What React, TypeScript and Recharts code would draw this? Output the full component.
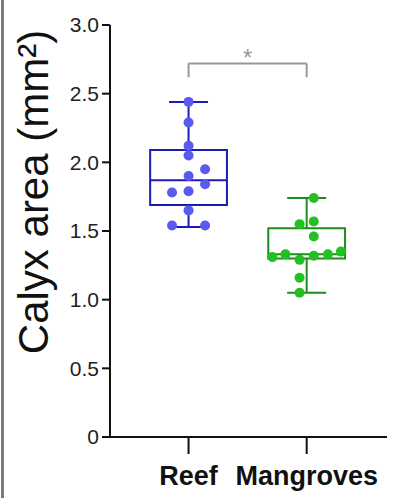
import { ComposedChart, Scatter, XAxis, YAxis, ReferenceArea, ReferenceLine } from 'recharts'

// category positions on the numeric x axis
const groups = ['Reef', 'Mangroves']
const groupPos = [1, 2]
const yTicks = [0, 0.5, 1.0, 1.5, 2.0, 2.5, 3.0]

// individual measurements (mm²) with beeswarm offsets (in category units)
const reefValues = [2.44, 2.29, 2.12, 2.05, 1.95, 1.90, 1.84, 1.78, 1.79, 1.65, 1.54, 1.54]
const reefJitter = [0, 0, 0, 0, 0.14, 0, 0.14, -0.14, 0, 0, -0.14, 0.14]
const mangroveValues = [1.74, 1.55, 1.57, 1.46, 1.31, 1.33, 1.29, 1.32, 1.33, 1.35, 1.16, 1.05]
const mangroveJitter = [0.06, -0.06, 0.06, 0.06, -0.29, -0.18, -0.06, 0.06, 0.18, 0.29, -0.06, -0.06]

// box summaries: [min, q1, median, q3, max]
const reefBox = [1.53, 1.69, 1.87, 2.09, 2.44]
const mangroveBox = [1.05, 1.30, 1.33, 1.52, 1.74]

const sigY = [2.62, 2.72]
const sigLabel = '*'

const reefData = reefValues.map((v, i) => ({ x: groupPos[0] + reefJitter[i], y: v }))
const mangroveData = mangroveValues.map((v, i) => ({ x: groupPos[1] + mangroveJitter[i], y: v }))

const BOX_HALF = 0.325
const CAP_HALF = 0.165

function boxParts(pos: number, box: number[], color: string, key: string) {
  const [min, q1, med, q3, max] = box
  return [
    <ReferenceLine key={key + 'w1'} segment={[{ x: pos, y: q3 }, { x: pos, y: max }]} stroke={color} strokeWidth={2} ifOverflow="visible" />,
    <ReferenceLine key={key + 'w2'} segment={[{ x: pos, y: min }, { x: pos, y: q1 }]} stroke={color} strokeWidth={2} ifOverflow="visible" />,
    <ReferenceLine key={key + 'c1'} segment={[{ x: pos - CAP_HALF, y: max }, { x: pos + CAP_HALF, y: max }]} stroke={color} strokeWidth={2} ifOverflow="visible" />,
    <ReferenceLine key={key + 'c2'} segment={[{ x: pos - CAP_HALF, y: min }, { x: pos + CAP_HALF, y: min }]} stroke={color} strokeWidth={2} ifOverflow="visible" />,
    <ReferenceArea key={key + 'b'} x1={pos - BOX_HALF} x2={pos + BOX_HALF} y1={q1} y2={q3} fill="#ffffff" fillOpacity={0} stroke={color} strokeWidth={2} ifOverflow="visible" />,
    <ReferenceLine key={key + 'm'} segment={[{ x: pos - BOX_HALF, y: med }, { x: pos + BOX_HALF, y: med }]} stroke={color} strokeWidth={2} ifOverflow="visible" />,
  ]
}

function CategoryTick(props: any) {
  const { x, y, payload } = props
  const idx = groupPos.indexOf(payload.value)
  return (
    <text x={x} y={y} dy="0.71em" textAnchor="middle" fontSize={27} fontWeight="bold" fill="#111111">
      {groups[idx]}
    </text>
  )
}

const dot = (color: string) => (p: any) => <circle cx={p.cx} cy={p.cy} r={5} fill={color} />

export default function App() {
  return (
    <div style={{
      position: 'absolute',
      left: 0,
      top: 0,
      width: 395,
      height: 498,
      background: '#ffffff',
      fontFamily: 'Liberation Sans, Arial, sans-serif',
    }}>
      <div style={{ position: 'absolute', left: 1, top: 0, width: 3, height: 498, background: '#7a7a7a' }} />
      <ComposedChart width={395} height={498} margin={{ top: 25, right: 8, bottom: 0, left: 0 }}>
        <XAxis
          type="number"
          dataKey="x"
          domain={[0.335, 2.68]}
          ticks={groupPos}
          allowDataOverflow
          height={61}
          tickSize={17}
          tickMargin={12}
          axisLine={{ stroke: '#111111', strokeWidth: 2 }}
          tickLine={{ stroke: '#111111', strokeWidth: 2 }}
          tick={<CategoryTick />}
        />
        <YAxis
          type="number"
          dataKey="y"
          domain={[0, 3]}
          ticks={yTicks}
          width={110}
          tickSize={8}
          tickMargin={3}
          tickFormatter={(v: number) => (v === 0 ? '0' : v.toFixed(1))}
          axisLine={{ stroke: '#111111', strokeWidth: 2 }}
          tickLine={{ stroke: '#111111', strokeWidth: 2 }}
          tick={{ fill: '#222222', fontSize: 21 }}
          label={{
            content: () => (
              <text x={33} y={192} transform="rotate(-90 33 192)" textAnchor="middle" dominantBaseline="central" fontSize={42} fill="#111111">
                Calyx area (mm²)
              </text>
            ),
          }}
        />
        <ReferenceLine segment={[{ x: groupPos[0], y: sigY[0] }, { x: groupPos[0], y: sigY[1] }]} stroke="#999999" strokeWidth={2} />
        <ReferenceLine segment={[{ x: groupPos[0], y: sigY[1] }, { x: groupPos[1], y: sigY[1] }]} stroke="#999999" strokeWidth={2} />
        <ReferenceLine segment={[{ x: groupPos[1], y: sigY[0] }, { x: groupPos[1], y: sigY[1] }]} stroke="#999999" strokeWidth={2} />
        <ReferenceLine
          segment={[{ x: groupPos[0], y: sigY[1] }, { x: groupPos[1], y: sigY[1] }]}
          stroke="none"
          label={{ value: sigLabel, position: 'center', dy: -6, fill: '#999999', fontSize: 24 }}
        />
        {boxParts(groupPos[0], reefBox, '#1c1cb4', 'reef')}
        {boxParts(groupPos[1], mangroveBox, '#1e8c1e', 'mang')}
        <Scatter data={reefData} fill="#5a5af0" shape={dot('#5a5af0')} isAnimationActive={false} />
        <Scatter data={mangroveData} fill="#22c022" shape={dot('#22c022')} isAnimationActive={false} />
      </ComposedChart>
    </div>
  )
}
